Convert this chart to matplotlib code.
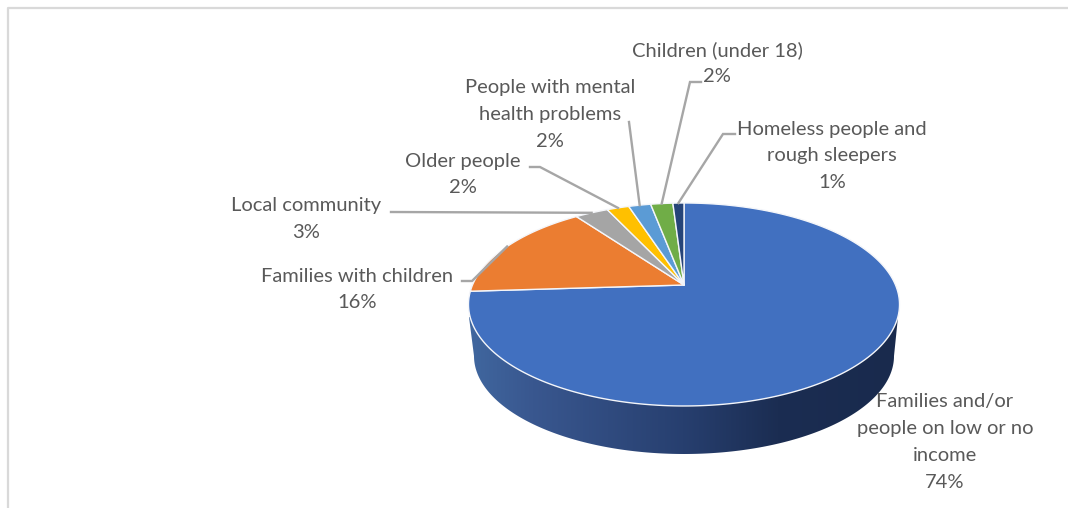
import numpy as np
import matplotlib
matplotlib.use("Agg")
import matplotlib.pyplot as plt
from matplotlib.colors import LinearSegmentedColormap
from matplotlib.patches import Polygon

categories = ["Families and/or\npeople on low or no\nincome",
              "Families with children",
              "Local community",
              "Older people",
              "People with mental\nhealth problems",
              "Children (under 18)",
              "Homeless people and\nrough sleepers"]
shares = [74, 16, 3, 2, 2, 2, 1]
colors = ["#4170c0", "#eb7d31", "#a5a5a5", "#ffc000", "#5b9bd5", "#70ad47", "#264478"]

# label centre (x, first line y) and the elbow of each leader line
label_pos = [(945, 402), (357, 276), (306, 206), (463, 161), (550, 88), (717, 50), (832, 129)]
elbows = [None,
          [(462, 281), (472, 281)],
          [(391, 212)],
          [(530, 167), (540, 167)],
          [(629, 122)],
          [(701, 82), (690, 82)],
          [(735, 134), (723, 134)]]

TEXT_COL = "#595959"
LINE_COL = "#a6a6a6"
cx, cy = 684, 285
K = 0.192
A = 97.75
B = 211.5
LINE_H = 26.7


def rim(theta):
    # clockwise degrees from 12 o'clock, projected on the tilted disc
    t = np.radians(theta)
    x, y = np.sin(t), np.cos(t)
    d = 1 + K * y
    return cx + B * x / d, cy - A * y / d


plt.rcParams["font.family"] = ["Lato", "DejaVu Sans"]
fig = plt.figure(figsize=(10.68, 5.08), dpi=100)
ax = fig.add_axes([0, 0, 1, 1])
ax.set_xlim(0, 1068)
ax.set_ylim(508, 0)
ax.axis("off")

# frame of the chart area
ax.plot([8, 8, 1068], [508, 8, 8], color="#d9d9d9", lw=1.6, zorder=1)

# side wall with a left to right gradient
tt = np.linspace(0, 180, 200)
bx = 684 - 210 * np.cos(np.radians(tt))
by = 356 + 98 * np.sin(np.radians(tt))
wall_x = np.r_[469, bx, 898]
wall_y = np.r_[317, by, 317]
wall = Polygon(np.c_[wall_x, wall_y], closed=True, fc="none", ec="none", transform=ax.transData)
ax.add_patch(wall)
cmap = LinearSegmentedColormap.from_list("wall", [(0, "#40679f"), (0.15, "#39578f"), (0.5, "#273f6f"),
                                                  (0.72, "#1b2d52"), (1, "#192a4d")])
im = ax.imshow(np.linspace(0, 1, 256)[None, :], extent=(468, 899, 460, 300), aspect="auto",
               cmap=cmap, zorder=2)
im.set_clip_path(wall)
ax.set_xlim(0, 1068)
ax.set_ylim(508, 0)

# top face of the pie
start = 0
mids = []
for share, col in zip(shares, colors):
    end = start + share * 3.6
    th = np.linspace(start, end, max(int(share * 8), 12))
    xs, ys = rim(th)
    ax.fill(np.r_[cx, xs], np.r_[cy, ys], fc=col, ec="#f4f6fa", lw=1.0, joinstyle="round", zorder=3)
    mids.append((start + end) / 2)
    start = end

# leader lines and labels
for name, share, pos, mid, elbow in zip(categories, shares, label_pos, mids, elbows):
    if elbow is not None:
        ex, ey = zip(*elbow)
        mx, my = rim(mid)
        ax.plot(list(ex) + [mx], list(ey) + [my], color=LINE_COL, lw=1.7, zorder=4,
                solid_joinstyle="miter")
    lines = name.split("\n") + [f"{share}%"]
    for i, line in enumerate(lines):
        ax.text(pos[0], pos[1] + i * LINE_H, line, ha="center", va="center",
                fontsize=14.5, color=TEXT_COL, zorder=5)

fig.savefig("out.png", dpi=100, facecolor="white")
